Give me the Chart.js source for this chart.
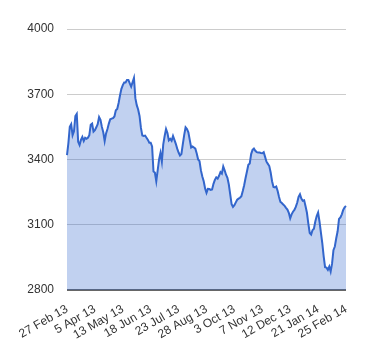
<!DOCTYPE html>
<html>
<head>
<meta charset="utf-8">
<script src="https://cdn.jsdelivr.net/npm/chart.js@4"></script>
<style>
  html, body { margin: 0; padding: 0; background: #fff; }
  #wrap { width: 380px; height: 360px; }
</style>
</head>
<body>
<div id="wrap"><canvas id="priceChart" width="380" height="360"></canvas></div>
<script>
// tick labels shown along the bottom (one every 20 points)
const tickLabels = ['27 Feb 13', '5 Apr 13', '13 May 13', '18 Jun 13', '23 Jul 13',
    '28 Aug 13', '3 Oct 13', '7 Nov 13', '12 Dec 13', '21 Jan 14', '25 Feb 14'];
const pointsPerTick = 20;

// closing values
const closes = [
    3420, 3475, 3550, 3562, 3512, 3530, 3600, 3610, 3482, 3467,
    3490, 3504, 3485, 3500, 3495, 3500, 3512, 3560, 3565, 3528,
    3535, 3548, 3562, 3595, 3582, 3550, 3525, 3485, 3520, 3540,
    3565, 3585, 3588, 3590, 3598, 3626, 3632, 3660, 3695, 3725,
    3742, 3754, 3754, 3766, 3766, 3750, 3735, 3755, 3775, 3682,
    3650, 3630, 3600, 3545, 3510, 3508, 3510, 3500, 3490, 3477,
    3477, 3460, 3345, 3340, 3300, 3350, 3400, 3430, 3390, 3470,
    3508, 3540, 3522, 3488, 3495, 3486, 3508, 3490, 3472, 3450,
    3432, 3418, 3425, 3470, 3512, 3548, 3540, 3525, 3490, 3455,
    3460, 3455, 3450, 3428, 3400, 3392, 3350, 3322, 3300, 3267,
    3247, 3265, 3264, 3260, 3262, 3288, 3306, 3318, 3312, 3325,
    3342, 3335, 3368, 3350, 3330, 3316, 3285, 3240, 3195, 3182,
    3190, 3203, 3215, 3220, 3224, 3231, 3255, 3282, 3315, 3345,
    3376, 3382, 3425, 3444, 3450, 3440, 3434, 3432, 3432, 3430,
    3429, 3434, 3412, 3390, 3380, 3370, 3340, 3300, 3274, 3272,
    3276, 3255, 3228, 3205, 3200, 3193, 3187, 3178, 3170, 3155,
    3130, 3148, 3160, 3168, 3182, 3201, 3228, 3240, 3220, 3210,
    3212, 3185, 3155, 3105, 3062, 3055, 3075, 3082, 3115, 3140,
    3156, 3115, 3065, 3015, 2955, 2905, 2903, 2893, 2908, 2885,
    2921, 2983, 3000, 3038, 3070, 3127, 3134, 3148, 3168, 3180,
    3186
];

const yMin = 2800;
const yMax = 4000;
const yStep = 300;

const labels = closes.map((v, i) => i % pointsPerTick === 0 ? tickLabels[i / pointsPerTick] : '');

const ctx = document.getElementById('priceChart');
new Chart(ctx, {
    type: 'line',
    data: {
        labels: labels,
        datasets: [{
            data: closes,
            borderColor: '#3366cc',
            backgroundColor: 'rgba(51, 102, 204, 0.3)',
            borderWidth: 2,
            pointRadius: 0,
            tension: 0,
            fill: 'start'
        }]
    },
    options: {
        responsive: false,
        animation: false,
        layout: {
            padding: { top: 29, right: 34, bottom: 0, left: 0 }
        },
        plugins: {
            legend: { display: false },
            tooltip: { enabled: false }
        },
        scales: {
            x: {
                offset: false,
                grid: { display: false },
                border: { display: false },
                ticks: {
                    autoSkip: false,
                    minRotation: 30,
                    maxRotation: 30,
                    padding: 4,
                    color: '#333',
                    font: { family: 'Liberation Sans, Arial', size: 12 }
                },
                afterFit: scale => { scale.height = 70; }
            },
            y: {
                min: yMin,
                max: yMax,
                grid: {
                    drawTicks: false,
                    color: c => c.tick && c.tick.value === yMin ? '#666' : '#ccc',
                    lineWidth: c => c.tick && c.tick.value === yMin ? 2 : 1
                },
                border: { display: false },
                ticks: {
                    stepSize: yStep,
                    padding: 13,
                    color: '#333',
                    font: { family: 'Liberation Sans, Arial', size: 12 },
                    callback: v => String(v)
                },
                afterFit: scale => { scale.width = 67; }
            }
        }
    }
});
</script>
</body>
</html>
